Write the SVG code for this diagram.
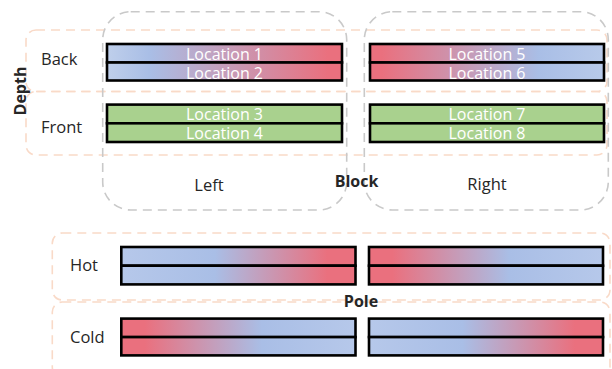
<svg xmlns="http://www.w3.org/2000/svg" width="612" height="369" viewBox="0 0 612 369">
<defs>
<linearGradient id="gTL" x1="0" y1="0" x2="1" y2="0">
<stop offset="0" stop-color="#bfcfeb"/><stop offset="0.18" stop-color="#a9bee6"/><stop offset="0.94" stop-color="#ea707e"/><stop offset="1" stop-color="#ea707e"/>
</linearGradient>
<linearGradient id="gTR" x1="0" y1="0" x2="1" y2="0">
<stop offset="0" stop-color="#ea707e"/><stop offset="0.05" stop-color="#ea707e"/><stop offset="0.72" stop-color="#a9bee6"/><stop offset="1" stop-color="#b8caea"/>
</linearGradient>
<linearGradient id="gBR" x1="0" y1="0" x2="1" y2="0">
<stop offset="0" stop-color="#b6c8ea"/><stop offset="0.4" stop-color="#a9bee6"/><stop offset="0.88" stop-color="#ea707e"/><stop offset="1" stop-color="#ea707e"/>
</linearGradient>
<linearGradient id="gRB" x1="0" y1="0" x2="1" y2="0">
<stop offset="0" stop-color="#ea707e"/><stop offset="0.1" stop-color="#ea707e"/><stop offset="0.6" stop-color="#a9bee6"/><stop offset="1" stop-color="#b6c8ea"/>
</linearGradient>
</defs>
<style>
.lbl{font-family:"Open Sans","Noto Sans",sans-serif;font-size:16.5px;fill:#262626}
.bold{font-family:"Open Sans","Noto Sans",sans-serif;font-size:16px;font-weight:bold;fill:#262626}
.loc{font-family:"Open Sans","Noto Sans",sans-serif;font-size:16px;fill:#ffffff;text-anchor:middle}
.gray{fill:none;stroke:#c9c9c9;stroke-width:1.6;stroke-dasharray:9 6}
.peach{fill:none;stroke:#f9dac8;stroke-width:1.6;stroke-dasharray:9 6}
.bar{stroke:#000;stroke-width:2.6}
.green{fill:#a9d18e}
</style>

<g id="depth-back"><rect class="peach" x="26" y="30" width="581" height="61.5" rx="10"/><text class="lbl" x="41" y="65">Back</text></g>
<g id="depth-front"><rect class="peach" x="26" y="91.5" width="581" height="63.5" rx="10"/><text class="lbl" x="41" y="132.5">Front</text></g>
<g id="depth-label"><text class="bold" text-anchor="middle" transform="translate(26,91) rotate(-90)">Depth</text></g>

<g id="block-left"><rect class="gray" x="102.7" y="11.7" width="244" height="198.3" rx="28"/><text class="lbl" x="209" y="190.5" text-anchor="middle">Left</text></g>
<g id="block-right"><rect class="gray" x="364.3" y="11.7" width="244" height="198.3" rx="28"/><text class="lbl" x="487" y="190" text-anchor="middle">Right</text></g>
<g id="block-label"><text class="bold" x="356.5" y="186.5" text-anchor="middle">Block</text></g>

<g id="location-1"><rect class="bar" x="107" y="44" width="235" height="18.5" fill="url(#gTL)"/><text class="loc" x="224.5" y="59.5">Location 1</text></g>
<g id="location-2"><rect class="bar" x="107" y="62.5" width="235" height="18" fill="url(#gTL)"/><text class="loc" x="224.5" y="78.5">Location 2</text></g>
<g id="location-5"><rect class="bar" x="370" y="44" width="234" height="18.5" fill="url(#gTR)"/><text class="loc" x="487" y="59.5">Location 5</text></g>
<g id="location-6"><rect class="bar" x="370" y="62.5" width="234" height="18" fill="url(#gTR)"/><text class="loc" x="487" y="78.5">Location 6</text></g>
<g id="location-3"><rect class="bar green" x="107" y="104.6" width="235" height="18.7"/><text class="loc" x="224.5" y="120">Location 3</text></g>
<g id="location-4"><rect class="bar green" x="107" y="123.3" width="235" height="18.7"/><text class="loc" x="224.5" y="139">Location 4</text></g>
<g id="location-7"><rect class="bar green" x="370" y="104.6" width="234" height="18.7"/><text class="loc" x="487" y="120">Location 7</text></g>
<g id="location-8"><rect class="bar green" x="370" y="123.3" width="234" height="18.7"/><text class="loc" x="487" y="139">Location 8</text></g>

<g id="pole-hot"><rect class="peach" x="52.3" y="233" width="557.7" height="67" rx="10"/><text class="lbl" x="70" y="271">Hot</text></g>
<g id="pole-cold"><rect class="peach" x="52.3" y="302" width="557.7" height="75" rx="10"/><text class="lbl" x="70" y="342.5">Cold</text></g>
<g id="pole-label"><text class="bold" x="361" y="306.5" text-anchor="middle">Pole</text></g>

<g id="hot-left"><rect class="bar" x="121.3" y="247" width="234.2" height="18.7" fill="url(#gBR)"/><rect class="bar" x="121.3" y="265.7" width="234.2" height="18.7" fill="url(#gBR)"/></g>
<g id="hot-right"><rect class="bar" x="369" y="247" width="234" height="18.7" fill="url(#gRB)"/><rect class="bar" x="369" y="265.7" width="234" height="18.7" fill="url(#gRB)"/></g>
<g id="cold-left"><rect class="bar" x="121.3" y="318.6" width="234.2" height="18.5" fill="url(#gRB)"/><rect class="bar" x="121.3" y="337.1" width="234.2" height="18.3" fill="url(#gRB)"/></g>
<g id="cold-right"><rect class="bar" x="369" y="318.6" width="234" height="18.5" fill="url(#gBR)"/><rect class="bar" x="369" y="337.1" width="234" height="18.3" fill="url(#gBR)"/></g>

<g id="connectors"/>
</svg>
